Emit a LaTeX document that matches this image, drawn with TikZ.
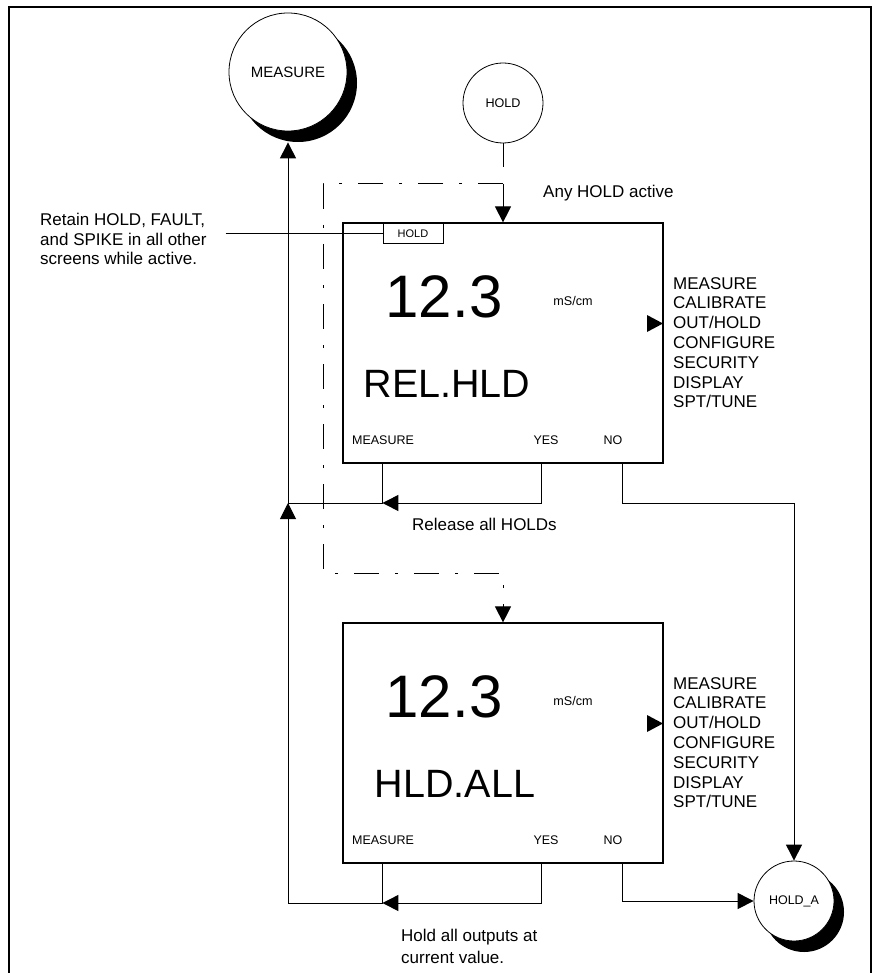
\documentclass[tikz,border=0pt]{standalone}
\usepackage{fontspec}
\setmainfont{Liberation Sans}
\usepackage{tikz}
\usetikzlibrary{arrows.meta,shadows}

\newcommand{\pxfont}[2]{\fontsize{#1}{#2}\selectfont}

\begin{document}
\begin{tikzpicture}[x=1pt,y=-1pt,
  every node/.style={inner sep=0pt},
  link/.style={line width=1pt},
  arrowed/.style={-{Triangle[length=16pt,width=16pt]}},
  dashdot/.style={line width=1pt,dash pattern=on 25pt off 16pt on 3pt off 16pt},
  screen/.style={draw,line width=1.2pt,minimum width=320pt,minimum height=240pt},
  state/.style={draw,circle,fill=white,line width=0.8pt},
  shadowed/.style={general shadow={fill=black,shadow xshift=10pt,shadow yshift=-11pt}},
  txt/.style={font=\pxfont{17}{19.5}},
  key/.style={font=\pxfont{12.5}{15}}]
  \useasboundingbox (0,0) rectangle (874,973);
  % frame
  \draw[line width=1.5pt] (9,990) -- (9,7) -- (871,7) -- (871,990);

  % states
  \node[state,shadowed,minimum size=118pt,font=\pxfont{15}{18}] (measure) at (288,72) {MEASURE};
  \node[state,minimum size=80pt,font=\pxfont{12.6}{15}] (hold) at (503,103) {HOLD};
  \node[state,shadowed,minimum size=80pt,font=\pxfont{12.5}{15}] (holda) at (794,901) {HOLD\_A};

  % screen 1: REL.HLD
  \node[screen] (scr1) at (503,343) {};
  \node[font=\pxfont{60}{60}] (val1) at (444,297) {12.3};
  \node[font=\pxfont{12.6}{15}] (unit1) at (573,301) {mS/cm};
  \node[font=\pxfont{39.5}{40}] (msg1) at (447,384) {REL.HLD};
  \node[key] (meas1) at (383,440) {MEASURE};
  \node[key] (yes1) at (546,440) {YES};
  \node[key] (no1) at (613,440) {NO};
  \fill (647,315) -- (663,323.5) -- (647,332) -- cycle;
  \node[anchor=north west,align=left,font=\pxfont{17}{19.8}] (menu1) at (673,277)
    {MEASURE\\CALIBRATE\\OUT/HOLD\\CONFIGURE\\SECURITY\\DISPLAY\\SPT/TUNE};
  \node[draw,fill=white,line width=1pt,minimum width=60pt,minimum height=20pt,
    anchor=north,font=\pxfont{11}{13}] (tab) at (413,223) {HOLD};

  % screen 2: HLD.ALL
  \node[screen] (scr2) at (503,743) {};
  \node[font=\pxfont{60}{60}] (val2) at (444,697) {12.3};
  \node[font=\pxfont{12.6}{15}] (unit2) at (573,701) {mS/cm};
  \node[font=\pxfont{39.5}{40}] (msg2) at (455,784) {HLD.ALL};
  \node[key] (meas2) at (383,840) {MEASURE};
  \node[key] (yes2) at (546,840) {YES};
  \node[key] (no2) at (613,840) {NO};
  \fill (647,715) -- (663,723.5) -- (647,732) -- cycle;
  \node[anchor=north west,align=left,font=\pxfont{17}{19.8}] (menu2) at (673,677)
    {MEASURE\\CALIBRATE\\OUT/HOLD\\CONFIGURE\\SECURITY\\DISPLAY\\SPT/TUNE};

  % notes
  \node[txt,anchor=north west,align=left] (retain) at (40,213)
    {Retain HOLD, FAULT,\\and SPIKE in all other\\screens while active.};
  \node[txt,anchor=west] (anyhold) at (543,193) {Any HOLD active};
  \node[txt,anchor=west] (release) at (412,524) {Release all HOLDs};
  \node[txt,anchor=north west,align=left,font=\pxfont{17}{22}] (holdall) at (401,929)
    {Hold all outputs at\\current value.};

  % connectors
  \coordinate (split) at (503,184);
  \coordinate (up) at (288,503);
  \coordinate (low) at (288,903);
  \draw[link] ([xshift=19pt]retain.east |- tab.west) -- (tab.west);
  \draw[link,arrowed,dash pattern=on 24pt off 17pt on 100pt off 0pt] (hold) -- (scr1);
  \draw[dashdot,arrowed] (split) -| (323,573) -| (scr2.north);
  % screen 1 keys
  \draw[link] ([xshift=40pt]scr1.south west) |- (up);
  \draw[link,arrowed] ([xshift=199pt]scr1.south west) |- ([xshift=40pt]scr1.south west |- up);
  \draw[link,arrowed] (up) -- ([yshift=-11pt]measure.south);
  \draw[link,arrowed] ([xshift=280pt]scr1.south west) |- (holda.north |- up) -- (holda);
  % screen 2 keys
  \draw[link,arrowed] ([xshift=40pt]scr2.south west) |- (low) -- (up);
  \draw[link,arrowed] ([xshift=199pt]scr2.south west) |- ([xshift=40pt]scr2.south west |- low);
  \draw[link,arrowed] ([xshift=280pt]scr2.south west) |- (holda);
\end{tikzpicture}
\end{document}
